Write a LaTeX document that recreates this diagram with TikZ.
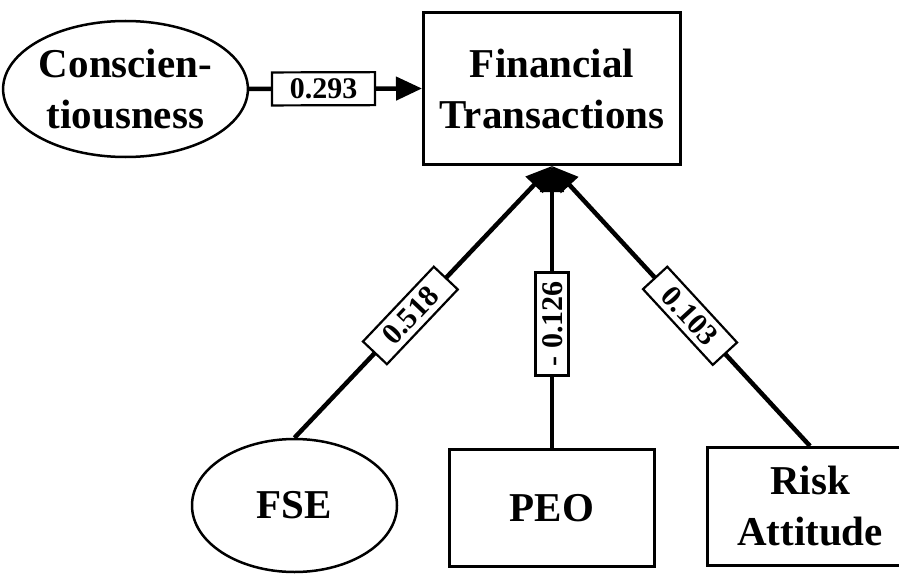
\documentclass[tikz,border=0pt]{standalone}
\usepackage{fontspec}
\setmainfont{Liberation Serif}
\usetikzlibrary{shapes.geometric,arrows.meta}
\begin{document}
\begin{tikzpicture}[x=1pt,y=-1pt,
  bigtext/.style={font=\fontsize{41}{51}\selectfont\bfseries, align=center, inner sep=0pt},
  ovalnode/.style={bigtext, ellipse, draw, line width=2.5pt},
  boxnode/.style={bigtext, rectangle, draw, line width=3pt},
  conn/.style={line width=4.5pt},
  arrowconn/.style={conn, -{Triangle[length=26pt,width=23pt]}},
  weight/.style={draw, fill=white, line width=2.2pt, sloped,
    font=\fontsize{30}{31}\selectfont\bfseries,
    text height=20pt, text depth=0pt,
    minimum width=103pt, minimum height=33pt, inner xsep=0pt, inner ysep=5pt}]
\clip (0,0) rectangle (899,575);
\fill[white] (0,0) rectangle (899,575);

% constructs
\node[ovalnode, minimum width=225pt, minimum height=136pt] (consc) at (125.5,89) {Conscien-\\tiousness};
\node[boxnode, minimum width=257pt, minimum height=152pt] (ft) at (552,88.5) {Financial\\Transactions};
\node[ovalnode, minimum width=205pt, minimum height=133pt] (fse) at (294.5,505.5) {FSE};
\node[boxnode, minimum width=205pt, minimum height=117pt] (peo) at (552,508) {PEO};
\node[boxnode, minimum width=205pt, minimum height=118pt] (risk) at (810,506.5) {Risk\\Attitude};

% paths with coefficients
\draw[arrowconn] (consc.east) -- node[weight, pos=0.43] {0.293} (ft.west);
\draw[arrowconn] (fse.north) -- node[weight, pos=0.45] {0.518} (ft.south);
\draw[arrowconn] (peo.north) -- node[weight, pos=0.44] {- 0.126} (ft.south);
\draw[arrowconn] (risk.north) -- node[weight, pos=0.465] {0.103} (ft.south);
\end{tikzpicture}
\end{document}
